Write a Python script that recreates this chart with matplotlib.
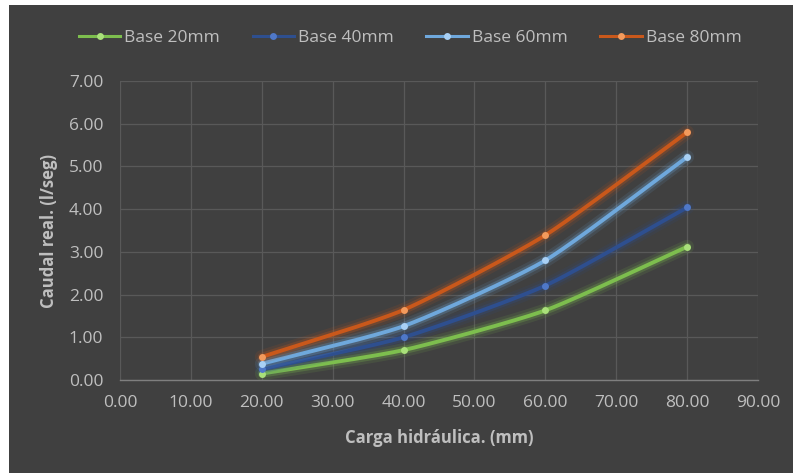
import numpy as np
import matplotlib
matplotlib.use("Agg")
import matplotlib.pyplot as plt
from matplotlib.patches import Rectangle
from matplotlib.lines import Line2D
import matplotlib.patheffects as pe

plt.rcParams['font.family'] = ['Open Sans', 'DejaVu Sans']

# Hydraulic head (mm) and measured flow (l/seg) for each base width
carga = [20, 40, 60, 80]
base_20 = [0.15, 0.70, 1.63, 3.12]
base_40 = [0.25, 1.00, 2.21, 4.04]
base_60 = [0.38, 1.26, 2.80, 5.22]
base_80 = [0.54, 1.64, 3.39, 5.80]

series_labels = ["Base 20mm", "Base 40mm", "Base 60mm", "Base 80mm"]
x_ticks = [0, 10, 20, 30, 40, 50, 60, 70, 80, 90]
y_ticks = [0, 1, 2, 3, 4, 5, 6, 7]

line_colors = ["#7DBE4E", "#2E4F8F", "#6FA8DC", "#C9581B"]
marker_colors = ["#A9E07A", "#4F78C8", "#A8D0F5", "#F39A5C"]

BG = "#404040"
TXT = "#BFBFBF"


def smooth(xs, ys, n=60):
    """Hermite smoothing through the given points."""
    xs = np.asarray(xs, float)
    ys = np.asarray(ys, float)
    px = np.concatenate([[2 * xs[0] - xs[1]], xs, [2 * xs[-1] - xs[-2]]])
    py = np.concatenate([[2 * ys[0] - ys[1]], ys, [2 * ys[-1] - ys[-2]]])
    out_x, out_y = [], []
    for i in range(1, len(px) - 2):
        t = np.linspace(0, 1, n)
        for arr, out in ((px, out_x), (py, out_y)):
            p0, p1, p2, p3 = arr[i - 1], arr[i], arr[i + 1], arr[i + 2]
            m1 = (p2 - p0) / 2 * 0.6
            m2 = (p3 - p1) / 2 * 0.6
            h00 = 2 * t**3 - 3 * t**2 + 1
            h10 = t**3 - 2 * t**2 + t
            h01 = -2 * t**3 + 3 * t**2
            h11 = t**3 - t**2
            out.extend(h00 * p1 + h10 * m1 + h01 * p2 + h11 * m2)
    return np.array(out_x), np.array(out_y)


fig = plt.figure(figsize=(7.93, 4.73), dpi=100, facecolor="white")
fig.patches.append(Rectangle((9 / 793, 0), 1, 1 - 5 / 473, transform=fig.transFigure,
                             facecolor=BG, edgecolor="none", zorder=-10))

ax = fig.add_axes([120 / 793, 1 - 380 / 473, 638 / 793, 299 / 473])
ax.set_facecolor(BG)
ax.set_zorder(1)

for ys, lc, mc, lab in zip([base_20, base_40, base_60, base_80], line_colors,
                           marker_colors, series_labels):
    sx, sy = smooth(carga, ys)
    glow = [pe.Stroke(linewidth=10, foreground=lc, alpha=0.12),
            pe.Stroke(linewidth=6, foreground=lc, alpha=0.25),
            pe.Normal()]
    ax.plot(sx, sy, color=lc, lw=2.8, solid_capstyle="round", zorder=3,
            path_effects=glow)
    ax.plot(carga, ys, "o", color=mc, ms=5, mec="none", zorder=4)

ax.set_xlim(0, 90)
ax.set_ylim(0, 7)
ax.set_xticks(x_ticks)
ax.set_yticks(y_ticks)
ax.set_xticklabels([f"{v:.2f}" for v in x_ticks])
ax.set_yticklabels([f"{v:.2f}" for v in y_ticks])
ax.grid(True, color="#595959", lw=0.9)
ax.set_axisbelow(True)
for s in ["top", "right", "left"]:
    ax.spines[s].set_visible(False)
ax.spines["bottom"].set_color("#7F7F7F")
ax.spines["bottom"].set_linewidth(1.0)
ax.tick_params(axis="both", length=0, colors=TXT, labelsize=12.5)
ax.tick_params(axis="x", pad=11)
ax.tick_params(axis="y", pad=12)

ax.set_xlabel("Carga hidráulica. (mm)", color=TXT, fontsize=12, fontweight="bold",
              labelpad=13)
ax.set_ylabel("Caudal real. (l/seg)", color=TXT, fontsize=12, fontweight="bold",
              labelpad=8)

handles = [Line2D([0], [0], color=lc, lw=2.2, marker="o", ms=5, mfc=mc, mec="none")
           for lc, mc in zip(line_colors, marker_colors)]
fig.legend(handles, series_labels, loc="center", bbox_to_anchor=(410 / 793, 1 - 38 / 473),
           ncol=4, frameon=False, fontsize=12.5, labelcolor=TXT, handlelength=2.4,
           handletextpad=0.2, columnspacing=1.9)

fig.savefig("out.png", dpi=100, facecolor="white")
